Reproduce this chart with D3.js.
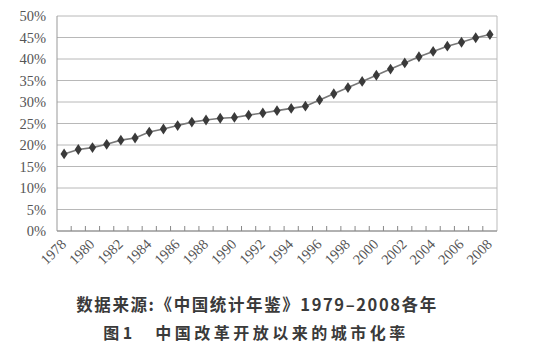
<!DOCTYPE html>
<html><head><meta charset="utf-8">
<script src="https://cdn.jsdelivr.net/npm/d3@7"></script>
<style>body{margin:0;background:#fff}svg{display:block}</style>
</head><body>
<svg id="c" width="533" height="353"></svg>
<script>
const years = d3.range(1978, 2009).map(String);
const rates = [17.92,18.96,19.39,20.16,21.13,21.62,23.01,23.71,24.52,25.32,25.81,26.21,26.41,26.94,27.46,27.99,28.51,29.04,30.48,31.91,33.35,34.78,36.22,37.66,39.09,40.53,41.76,42.99,43.90,44.94,45.68];
const yTicks = [0,5,10,15,20,25,30,35,40,45,50];
const source = "数据来源:《中国统计年鉴》1979–2008各年";
const title = "图1　中国改革开放以来的城市化率";

const svg = d3.select("#c");
const L=57, R=497, T=16, B=231;
const x = d3.scaleBand().domain(years).range([L,R]);
const y = d3.scaleLinear().domain([0,50]).range([B,T]);

// gridlines
svg.append("g").selectAll("line").data(yTicks).join("line")
  .attr("x1",L).attr("x2",R).attr("y1",d=>y(d)).attr("y2",d=>y(d))
  .attr("stroke","#b8b8b8").attr("stroke-width",1);
// borders
svg.append("line").attr("x1",L).attr("x2",L).attr("y1",T).attr("y2",B).attr("stroke","#999");
svg.append("line").attr("x1",R).attr("x2",R).attr("y1",T).attr("y2",B).attr("stroke","#bbb");
svg.append("line").attr("x1",L).attr("x2",R).attr("y1",B).attr("y2",B).attr("stroke","#888");

// y labels
svg.append("g").selectAll("text").data(yTicks).join("text")
  .attr("x",46).attr("y",d=>y(d)+5).attr("text-anchor","end")
  .attr("font-family","Liberation Serif, serif").attr("font-size",14.5).attr("fill","#555")
  .text(d=>d+"%");

// x ticks at band boundaries
svg.append("g").selectAll("line").data(years.slice(1)).join("line")
  .attr("x1",d=>x(d)).attr("x2",d=>x(d)).attr("y1",B).attr("y2",B-5)
  .attr("stroke","#888");

// x labels
svg.append("g").selectAll("text").data(years.filter((d,i)=>i%2===0)).join("text")
  .attr("transform",d=>`translate(${x(d)+x.bandwidth()/2+3},${B+14}) rotate(-45)`)
  .attr("text-anchor","end")
  .attr("font-family","Liberation Serif, serif").attr("font-size",14.5).attr("fill","#555")
  .text(d=>d);

// line
const line = d3.line().x((d,i)=>x(years[i])+x.bandwidth()/2).y(d=>y(d));
svg.append("path").datum(rates).attr("d",line).attr("fill","none")
  .attr("stroke","#777").attr("stroke-width",1.6);
svg.append("g").selectAll("path").data(rates).join("path")
  .attr("d",d3.symbol(d3.symbolDiamond,34))
  .attr("transform",(d,i)=>`translate(${x(years[i])+x.bandwidth()/2},${y(d)}) scale(1.15,1)`)
  .attr("fill","#3a3a3a");

// captions
svg.append("text").attr("x",257).attr("y",311).attr("text-anchor","middle")
  .attr("font-family","Noto Sans CJK SC, sans-serif").attr("font-weight","bold")
  .attr("font-size",16.5).attr("fill","#3a3a3a").attr("letter-spacing",1.6).text(source);
svg.append("text").attr("x",256).attr("y",339).attr("text-anchor","middle")
  .attr("font-family","Noto Sans CJK SC, sans-serif").attr("font-weight","bold")
  .attr("font-size",16).attr("fill","#3a3a3a").attr("letter-spacing",3.5).text(title);
</script>
</body></html>
